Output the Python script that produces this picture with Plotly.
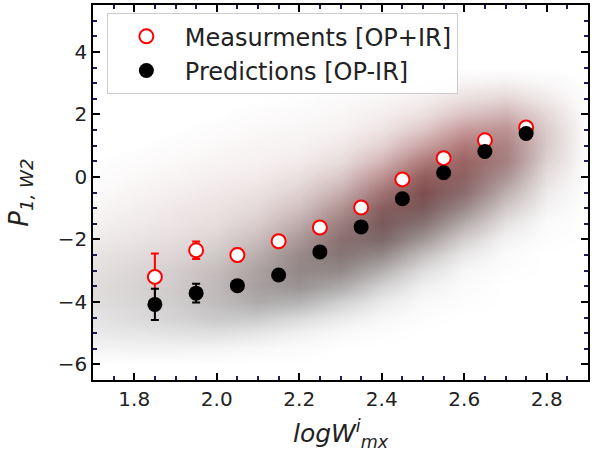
import numpy as np
import plotly.graph_objects as go

# Binned relation: bin centres in logW and mean P_1,W2 with 1-sigma errors
bin_x = [1.85, 1.95, 2.05, 2.15, 2.25, 2.35, 2.45, 2.55, 2.65, 2.75]
meas_y = [-3.2, -2.35, -2.5, -2.06, -1.62, -0.98, -0.08, 0.6, 1.17, 1.58]
meas_err = [0.75, 0.28, 0.2, 0.08, 0.06, 0.06, 0.06, 0.05, 0.05, 0.05]
pred_y = [-4.08, -3.72, -3.48, -3.14, -2.4, -1.6, -0.7, 0.13, 0.81, 1.39]
pred_err = [0.5, 0.3, 0.15, 0.08, 0.06, 0.06, 0.06, 0.05, 0.05, 0.05]

# Point-cloud density (estimated), one profile per logW column
grid_x = [1.7, 1.8, 1.9, 2.0, 2.1, 2.2, 2.3, 2.4, 2.5, 2.6, 2.7, 2.8, 2.9]
grid_y = [-6.0, -5.5, -5.0, -4.5, -4.0, -3.5, -3.0, -2.5, -2.0, -1.5,
          -1.0, -0.5, 0.0, 0.5, 1.0, 1.5, 2.0, 2.5, 3.0, 3.5]
cloud_gray = [
    [0, 0.05, 0.10, 0.12, 0.14, 0.14, 0.12, 0.10, 0.07, 0.05, 0.03, 0.02, 0.01, 0, 0, 0, 0, 0, 0, 0],
    [0, 0.06, 0.12, 0.16, 0.18, 0.18, 0.16, 0.13, 0.10, 0.07, 0.05, 0.03, 0.02, 0.01, 0, 0, 0, 0, 0, 0],
    [0, 0.06, 0.14, 0.20, 0.22, 0.22, 0.20, 0.16, 0.12, 0.09, 0.07, 0.05, 0.03, 0.02, 0.01, 0, 0, 0, 0, 0],
    [0, 0.05, 0.15, 0.25, 0.30, 0.30, 0.28, 0.22, 0.17, 0.12, 0.09, 0.07, 0.05, 0.03, 0.02, 0.01, 0, 0, 0, 0],
    [0, 0.03, 0.12, 0.25, 0.38, 0.42, 0.40, 0.34, 0.26, 0.18, 0.13, 0.09, 0.06, 0.04, 0.03, 0.02, 0.01, 0, 0, 0],
    [0, 0.02, 0.07, 0.18, 0.35, 0.48, 0.52, 0.50, 0.42, 0.32, 0.22, 0.15, 0.10, 0.06, 0.04, 0.03, 0.02, 0.01, 0, 0],
    [0, 0, 0.03, 0.10, 0.22, 0.38, 0.52, 0.60, 0.60, 0.52, 0.40, 0.28, 0.18, 0.11, 0.07, 0.04, 0.03, 0.02, 0, 0],
    [0, 0, 0.01, 0.04, 0.10, 0.20, 0.35, 0.52, 0.65, 0.70, 0.65, 0.52, 0.36, 0.22, 0.13, 0.08, 0.05, 0.03, 0.01, 0],
    [0, 0, 0, 0.01, 0.03, 0.07, 0.15, 0.28, 0.45, 0.60, 0.70, 0.72, 0.62, 0.45, 0.28, 0.16, 0.09, 0.05, 0.02, 0],
    [0, 0, 0, 0, 0.01, 0.02, 0.04, 0.10, 0.20, 0.35, 0.50, 0.60, 0.62, 0.58, 0.45, 0.30, 0.18, 0.10, 0.04, 0],
    [0, 0, 0, 0, 0, 0, 0.01, 0.02, 0.05, 0.12, 0.22, 0.32, 0.42, 0.48, 0.45, 0.36, 0.24, 0.13, 0.05, 0],
    [0, 0, 0, 0, 0, 0, 0, 0, 0.01, 0.02, 0.05, 0.08, 0.12, 0.16, 0.18, 0.17, 0.13, 0.07, 0.03, 0],
    [0, 0, 0, 0, 0, 0, 0, 0, 0, 0, 0, 0, 0, 0, 0, 0, 0, 0, 0, 0],
]
cloud_red = [
    [0, 0, 0, 0.01, 0.02, 0.03, 0.03, 0.03, 0.03, 0.02, 0.02, 0.01, 0, 0, 0, 0, 0, 0, 0, 0],
    [0, 0, 0, 0.01, 0.02, 0.03, 0.04, 0.04, 0.04, 0.04, 0.03, 0.03, 0.02, 0.01, 0, 0, 0, 0, 0, 0],
    [0, 0, 0, 0.01, 0.02, 0.04, 0.05, 0.05, 0.05, 0.05, 0.05, 0.04, 0.03, 0.02, 0.01, 0, 0, 0, 0, 0],
    [0, 0, 0, 0.01, 0.02, 0.04, 0.06, 0.06, 0.06, 0.06, 0.06, 0.05, 0.04, 0.03, 0.02, 0.01, 0, 0, 0, 0],
    [0, 0, 0, 0, 0.02, 0.05, 0.07, 0.08, 0.09, 0.09, 0.08, 0.07, 0.05, 0.04, 0.03, 0.02, 0.01, 0, 0, 0],
    [0, 0, 0, 0, 0.01, 0.04, 0.08, 0.11, 0.13, 0.13, 0.12, 0.10, 0.07, 0.05, 0.03, 0.02, 0.01, 0, 0, 0],
    [0, 0, 0, 0, 0, 0.02, 0.06, 0.12, 0.18, 0.21, 0.21, 0.18, 0.13, 0.08, 0.05, 0.03, 0.02, 0.01, 0, 0],
    [0, 0, 0, 0, 0, 0.01, 0.03, 0.07, 0.14, 0.22, 0.30, 0.32, 0.30, 0.22, 0.13, 0.07, 0.04, 0.02, 0, 0],
    [0, 0, 0, 0, 0, 0, 0.01, 0.03, 0.07, 0.14, 0.24, 0.34, 0.40, 0.38, 0.28, 0.16, 0.08, 0.04, 0.01, 0],
    [0, 0, 0, 0, 0, 0, 0, 0.01, 0.03, 0.06, 0.12, 0.22, 0.32, 0.40, 0.40, 0.32, 0.18, 0.08, 0.02, 0],
    [0, 0, 0, 0, 0, 0, 0, 0, 0.01, 0.02, 0.05, 0.10, 0.17, 0.25, 0.30, 0.30, 0.22, 0.10, 0.03, 0],
    [0, 0, 0, 0, 0, 0, 0, 0, 0, 0, 0.01, 0.02, 0.04, 0.07, 0.10, 0.10, 0.08, 0.04, 0.01, 0],
    [0, 0, 0, 0, 0, 0, 0, 0, 0, 0, 0, 0, 0, 0, 0, 0, 0, 0, 0, 0],
]

fig = go.Figure()

fig.add_trace(go.Heatmap(
    x=grid_x, y=grid_y, z=np.array(cloud_gray).T, zmin=0, zmax=1,
    zsmooth="best", showscale=False, hoverinfo="skip",
    colorscale=[[0, "rgba(0,0,0,0)"], [1, "rgba(0,0,0,0.85)"]],
))
fig.add_trace(go.Heatmap(
    x=grid_x, y=grid_y, z=np.array(cloud_red).T, zmin=0, zmax=1,
    zsmooth="best", showscale=False, hoverinfo="skip",
    colorscale=[[0, "rgba(255,0,0,0)"], [1, "rgba(190,0,0,0.6)"]],
))

fig.add_trace(go.Scatter(
    x=bin_x, y=meas_y, mode="markers", name="Measurments [OP+IR]",
    marker=dict(size=14, color="white", line=dict(color="red", width=2)),
    error_y=dict(type="data", array=meas_err, color="red", thickness=2, width=4),
))
fig.add_trace(go.Scatter(
    x=bin_x, y=pred_y, mode="markers", name="Predictions [OP-IR]",
    marker=dict(size=15, color="black"),
    error_y=dict(type="data", array=pred_err, color="black", thickness=2, width=4),
))

axis_common = dict(
    showline=True, linecolor="black", linewidth=1.5, mirror="allticks",
    ticks="inside", ticklen=7, tickwidth=1.5, tickcolor="black",
    showgrid=False, zeroline=False,
    tickfont=dict(family="DejaVu Sans", size=20, color="#222"),
)

fig.update_xaxes(
    range=[1.7, 2.9], dtick=0.2, tick0=1.8, tickformat=".1f",
    minor=dict(ticks="inside", ticklen=4, dtick=0.05, tick0=1.8, tickcolor="#1c1c5a", tickwidth=1.5),
    title=dict(text="<i>logW</i><sup><i>i</i></sup><sub><i>mx</i></sub>",
               font=dict(family="DejaVu Sans", size=25, color="#222"), standoff=15),
    **axis_common,
)
fig.update_yaxes(
    range=[-6.5, 5.5], dtick=2, tick0=0,
    minor=dict(ticks="inside", ticklen=4, dtick=0.5, tick0=0, tickcolor="#1c1c5a", tickwidth=1.5),
    title=dict(text="<i>P</i><sub><i>1, W2</i></sub>",
               font=dict(family="DejaVu Sans", size=26, color="#222"), standoff=22),
    **axis_common,
)

fig.update_layout(
    width=592, height=460,
    margin=dict(l=93, r=2, t=5, b=80),
    paper_bgcolor="white", plot_bgcolor="white",
    showlegend=True,
    legend=dict(
        x=0.028, y=0.978, xanchor="left", yanchor="top",
        bgcolor="rgba(255,255,255,0.85)", bordercolor="#cccccc", borderwidth=1,
        font=dict(family="DejaVu Sans", size=24, color="#222"),
        itemsizing="trace", itemwidth=67, tracegroupgap=0,
    ),
)

fig.write_html("out.html")
